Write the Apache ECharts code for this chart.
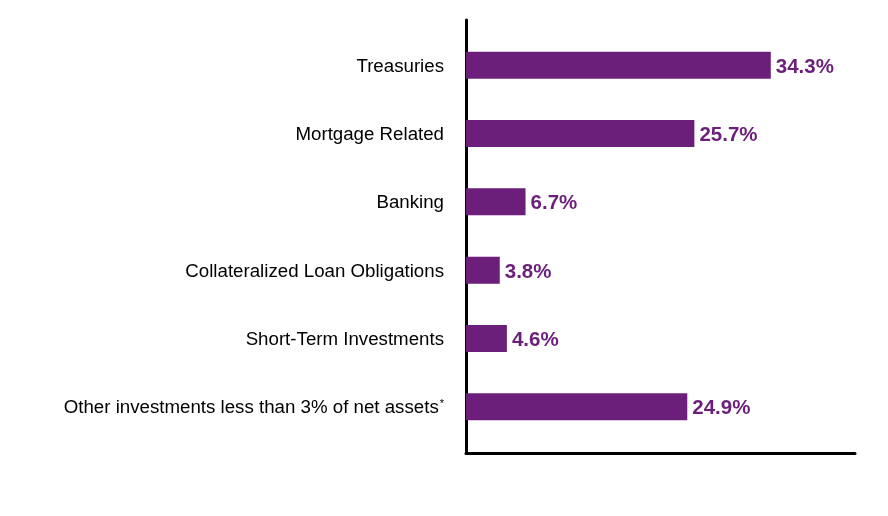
<!DOCTYPE html>
<html>
<head>
<meta charset="utf-8">
<script src="https://cdn.jsdelivr.net/npm/echarts@6/dist/echarts.min.js"></script>
<style>
  html, body { margin: 0; padding: 0; background: #fff; }
  #chart { width: 888px; height: 516px; }
</style>
</head>
<body>
<div id="chart"></div>
<script>
const categories = [
  "Treasuries",
  "Mortgage Related",
  "Banking",
  "Collateralized Loan Obligations",
  "Short-Term Investments",
  "Other investments less than 3% of net assets"
]
const footnoted = ["Other investments less than 3% of net assets"]
const values = [34.3, 25.7, 6.7, 3.8, 4.6, 24.9]

const purple = "#6b1f7b"
const font = "Liberation Sans, Arial, sans-serif"

const chart = echarts.init(document.getElementById("chart"))

chart.setOption({
  animation: false,
  grid: [
    // bars
    { left: 466, right: 31, top: 31, height: 410 },
    // axis frame only
    { left: 466, right: 33, top: 20, bottom: 63 }
  ],
  xAxis: [
    {
      gridIndex: 0,
      type: "value",
      min: 0,
      max: 44,
      show: false
    },
    {
      gridIndex: 1,
      type: "value",
      min: 0,
      max: 44,
      axisLine: { show: true, lineStyle: { color: "#000", width: 3 } },
      axisTick: { show: false },
      axisLabel: { show: false },
      splitLine: { show: false }
    }
  ],
  yAxis: [
    {
      gridIndex: 0,
      type: "category",
      data: categories,
      inverse: true,
      axisLine: { show: false },
      axisTick: { show: false },
      axisLabel: {
        margin: 22,
        color: "#000",
        fontFamily: font,
        fontSize: 18.7,
        padding: [3, 0, 0, 0],
        formatter: v => footnoted.includes(v) ? `{t|${v}}{s|*}` : `{t|${v}}`,
        rich: {
          t: { fontFamily: font, fontSize: 18.7, color: "#000" },
          s: { fontFamily: font, fontSize: 11, color: "#000", verticalAlign: "top", padding: [0, 0, 8, 1] }
        }
      }
    },
    {
      gridIndex: 1,
      type: "value",
      axisLine: { show: true, onZero: false, lineStyle: { color: "#000", width: 3 } },
      axisTick: { show: false },
      axisLabel: { show: false },
      splitLine: { show: false }
    }
  ],
  series: [
    {
      type: "bar",
      xAxisIndex: 0,
      yAxisIndex: 0,
      data: values,
      barWidth: 27,
      itemStyle: { color: purple },
      label: {
        show: true,
        position: "right",
        distance: 5,
        offset: [0, 2],
        color: purple,
        fontFamily: font,
        fontSize: 20.5,
        fontWeight: "bold",
        formatter: p => p.value.toFixed(1) + "%"
      }
    }
  ]
})
</script>
</body>
</html>
